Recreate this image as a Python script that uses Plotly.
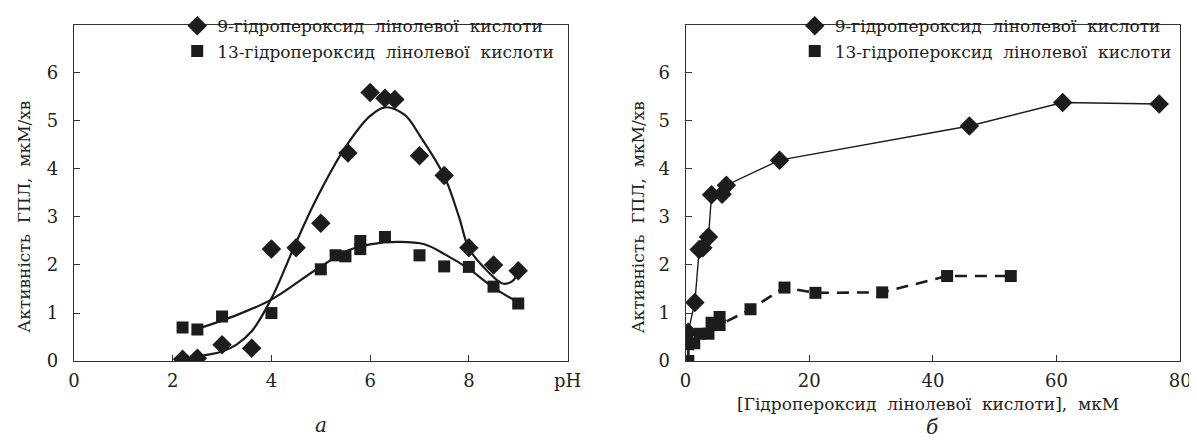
import plotly.graph_objects as go

# ---------------- Panel a: activity vs pH ----------------
ph_9 = [2.2, 2.5, 3.0, 3.6, 4.0, 4.5, 5.0, 5.55, 6.0, 6.3, 6.5, 7.0, 7.5, 8.0, 8.5, 9.0]
act_ph_9 = [0.04, 0.06, 0.34, 0.27, 2.33, 2.36, 2.87, 4.33, 5.59, 5.47, 5.44, 4.27, 3.86, 2.36, 2.0, 1.88]

ph_13 = [2.2, 2.5, 3.0, 4.0, 5.0, 5.3, 5.5, 5.8, 5.8, 6.3, 7.0, 7.5, 8.0, 8.5, 9.0]
act_ph_13 = [0.7, 0.66, 0.93, 1.0, 1.91, 2.2, 2.18, 2.5, 2.33, 2.58, 2.2, 1.97, 1.96, 1.55, 1.2]

# fitted smooth curves
fit_ph_9 = [2.5, 3.0, 3.3, 3.6, 4.0, 4.45, 4.9, 5.5, 6.0, 6.3, 6.7, 7.0, 7.5, 7.8, 8.0, 8.35, 8.7, 8.9, 9.0]
fit_act_9 = [0.1, 0.2, 0.35, 0.62, 1.3, 2.35, 3.35, 4.45, 5.1, 5.28, 5.12, 4.7, 3.85, 3.0, 2.35, 1.9, 1.61, 1.68, 1.87]

fit_ph_13 = [2.5, 3.2, 4.0, 4.9, 5.55, 6.0, 6.6, 7.1, 7.55, 8.0, 8.5, 9.0]
fit_act_13 = [0.67, 0.92, 1.28, 1.9, 2.3, 2.43, 2.48, 2.43, 2.2, 1.92, 1.53, 1.22]

# ---------------- Panel б: activity vs concentration ----------------
conc_9 = [0.4, 1.5, 2.2, 2.8, 3.7, 4.2, 5.9, 6.6, 15.2, 45.9, 61.0, 76.6]
act_c_9 = [0.6, 1.22, 2.32, 2.36, 2.58, 3.46, 3.47, 3.66, 4.18, 4.89, 5.38, 5.35]

conc_13 = [0.45, 0.45, 1.4, 2.3, 3.7, 4.2, 5.5, 5.5, 10.5, 16.0, 21.0, 31.8, 42.3, 52.6]
act_c_13 = [0.0, 0.35, 0.37, 0.57, 0.57, 0.8, 0.92, 0.75, 1.08, 1.53, 1.42, 1.43, 1.77, 1.77]

x_ticks_a = [0, 2, 4, 6, 8, 10]
x_ticktext_a = ["0", "2", "4", "6", "8", "pH"]
x_ticks_b = [0, 20, 40, 60, 80]
y_ticks = [0, 1, 2, 3, 4, 5, 6]

name_9 = "9-гідропероксид  лінолевої  кислоти"
name_13 = "13-гідропероксид  лінолевої  кислоти"
y_title = "Активність  ГПЛ,  мкМ/хв"
x_title_b = "[Гідропероксид  лінолевої  кислоти],  мкМ"

INK = "#1c1c1c"
FONT = "DejaVu Serif"

fig = go.Figure()

# panel a curves
fig.add_trace(go.Scatter(x=fit_ph_9, y=fit_act_9, mode="lines", line=dict(color=INK, width=2.2, shape="spline", smoothing=1.0),
                         showlegend=False, xaxis="x", yaxis="y", hoverinfo="skip"))
fig.add_trace(go.Scatter(x=fit_ph_13, y=fit_act_13, mode="lines", line=dict(color=INK, width=2.2, shape="spline", smoothing=1.0),
                         showlegend=False, xaxis="x", yaxis="y", hoverinfo="skip"))
fig.add_trace(go.Scatter(x=ph_9, y=act_ph_9, mode="markers", name=name_9,
                         marker=dict(symbol="diamond", size=15, color=INK, line=dict(width=0)),
                         xaxis="x", yaxis="y", legend="legend"))
fig.add_trace(go.Scatter(x=ph_13, y=act_ph_13, mode="markers", name=name_13,
                         marker=dict(symbol="square", size=12, color=INK, line=dict(width=0)),
                         xaxis="x", yaxis="y", legend="legend"))

# panel b lines
fig.add_trace(go.Scatter(x=conc_9, y=act_c_9, mode="lines", line=dict(color=INK, width=1.4),
                         showlegend=False, xaxis="x2", yaxis="y2", hoverinfo="skip"))
fig.add_trace(go.Scatter(x=conc_13, y=act_c_13, mode="lines", line=dict(color=INK, width=2.6, dash="12px,8px"),
                         showlegend=False, xaxis="x2", yaxis="y2", hoverinfo="skip"))
fig.add_trace(go.Scatter(x=conc_9, y=act_c_9, mode="markers", name=name_9,
                         marker=dict(symbol="diamond", size=15, color=INK, line=dict(width=0)),
                         xaxis="x2", yaxis="y2", legend="legend2"))
fig.add_trace(go.Scatter(x=conc_13, y=act_c_13, mode="markers", name=name_13,
                         marker=dict(symbol="square", size=12, color=INK, line=dict(width=0)),
                         xaxis="x2", yaxis="y2", legend="legend2"))

W, H = 1197, 441
def px(xp):
    return xp / W
def py(yp):
    return 1 - yp / H

axis_common = dict(showline=True, linecolor="#333333", linewidth=1.3, mirror=True,
                   ticks="inside", ticklen=6, tickcolor="#333333", tickwidth=1.2,
                   showgrid=False, zeroline=False,
                   tickfont=dict(family=FONT, size=18, color="#222222"))

dom_y = [py(360), py(10)]
fig.update_layout(
    width=W, height=H,
    margin=dict(l=0, r=0, t=0, b=0),
    paper_bgcolor="white", plot_bgcolor="white",
    font=dict(family=FONT),
    xaxis=dict(domain=[px(61), px(563)], range=[0, 10], tickvals=x_ticks_a, ticktext=x_ticktext_a,
               anchor="y", ticklabelstandoff=3, **axis_common),
    yaxis=dict(domain=dom_y, range=[0, 7], tickvals=y_ticks, anchor="x", ticklabelstandoff=11, **axis_common),
    xaxis2=dict(domain=[px(683), px(1186)], range=[0, 80], tickvals=x_ticks_b,
                anchor="y2", ticklabelstandoff=3, **axis_common),
    yaxis2=dict(domain=dom_y, range=[0, 7], tickvals=y_ticks, anchor="x2", ticklabelstandoff=11, **axis_common),
    legend=dict(x=px(166), y=py(-7), xanchor="left", yanchor="top", bgcolor="rgba(0,0,0,0)",
                font=dict(family=FONT, size=17, color="#222222"), tracegroupgap=0, itemwidth=30),
    legend2=dict(x=px(794), y=py(-7), xanchor="left", yanchor="top", bgcolor="rgba(0,0,0,0)",
                 font=dict(family=FONT, size=17, color="#222222"), tracegroupgap=0, itemwidth=30),
)

ann_font = dict(family=FONT, size=17, color="#222222")
fig.add_annotation(text=y_title, textangle=-90, x=px(10), y=py(210), xref="paper", yref="paper",
                   showarrow=False, font=ann_font, xanchor="center", yanchor="middle")
fig.add_annotation(text=y_title, textangle=-90, x=px(634), y=py(210), xref="paper", yref="paper",
                   showarrow=False, font=ann_font, xanchor="center", yanchor="middle")
fig.add_annotation(text=x_title_b, x=px(930), y=py(405), xref="paper", yref="paper",
                   showarrow=False, font=ann_font, xanchor="center", yanchor="middle")
fig.add_annotation(text="<i>a</i>", x=px(312), y=py(426), xref="paper", yref="paper",
                   showarrow=False, font=dict(family=FONT, size=20, color="#222222"), xanchor="center", yanchor="middle")
fig.add_annotation(text="<i>б</i>", x=px(934), y=py(428), xref="paper", yref="paper",
                   showarrow=False, font=dict(family=FONT, size=20, color="#222222"), xanchor="center", yanchor="middle")

fig.write_html("out.html")
